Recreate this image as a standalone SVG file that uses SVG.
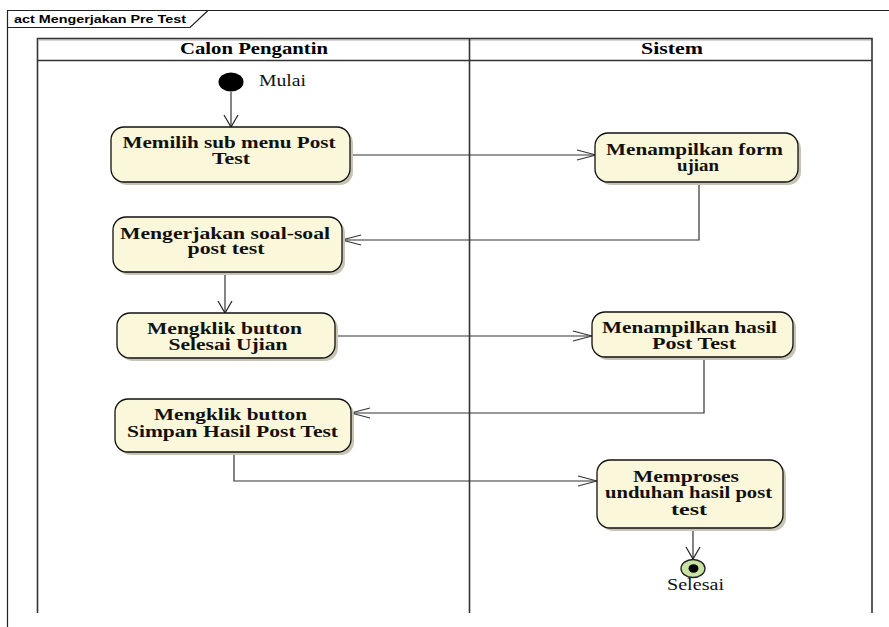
<svg xmlns="http://www.w3.org/2000/svg" width="889" height="627" viewBox="0 0 889 627">
<style>
.frame{fill:none;stroke:#222;stroke-width:1.2}
.lane{fill:none;stroke:#333;stroke-width:1.6}
.title{font-family:"Liberation Sans",Arial,sans-serif;font-weight:bold;font-size:11px;fill:#000}
.hdr{font-family:"Liberation Serif","Times New Roman",serif;font-weight:bold;font-size:16px;fill:#000;text-anchor:middle}
.lbl{font-family:"Liberation Serif","Times New Roman",serif;font-weight:bold;font-size:16px;fill:#111;text-anchor:middle}
.plain{font-family:"Liberation Serif","Times New Roman",serif;font-size:16px;fill:#111}
.act{fill:#FBF7DA;stroke:#111;stroke-width:1.3}
.shadow{fill:#c8c4b4;stroke:none}
.edge{fill:none;stroke:#333;stroke-width:1.2}
</style>
<defs>
<marker id="arrH" markerUnits="userSpaceOnUse" markerWidth="22" markerHeight="14" refX="20" refY="7" orient="auto">
<path d="M1,2 L20,7 L1,12" fill="none" stroke="#333" stroke-width="1.1"/>
</marker>
<marker id="arrV" markerUnits="userSpaceOnUse" markerWidth="16" markerHeight="18" refX="13" refY="9" orient="auto">
<path d="M1,2 L13,9 L1,16" fill="none" stroke="#222" stroke-width="1.2"/>
</marker>
</defs>
<rect x="0" y="0" width="889" height="627" fill="#fff"/>
<g id="frame">
<path class="frame" d="M7.5,627 V10.5 H889"/>
<path class="frame" d="M7.5,27.5 H190 L208,10.5"/>
<text class="title" x="14" y="23" textLength="172" lengthAdjust="spacingAndGlyphs">act Mengerjakan Pre Test</text>
</g>
<g id="lanes">
<path d="M39,40 H873" stroke="#aaa" stroke-width="1" fill="none"/>
<path class="lane" d="M37.5,613 V38.5 H872 V613"/>
<path class="lane" d="M37.5,60.5 H872"/>
<path class="lane" d="M469.5,38.5 V613"/>
<text class="hdr" x="254" y="54" textLength="148" lengthAdjust="spacingAndGlyphs">Calon Pengantin</text>
<text class="hdr" x="672" y="54" textLength="62" lengthAdjust="spacingAndGlyphs">Sistem</text>
</g>
<g id="connectors">
<path class="edge" d="M231,92 V127" marker-end="url(#arrV)"/>
<path class="edge" d="M350,155 H596" marker-end="url(#arrH)"/>
<path class="edge" d="M699,182 V240 H342" marker-end="url(#arrH)"/>
<path class="edge" d="M225,272 V313" marker-end="url(#arrV)"/>
<path class="edge" d="M335,336 H592" marker-end="url(#arrH)"/>
<path class="edge" d="M704,357 V413 H351" marker-end="url(#arrH)"/>
<path class="edge" d="M234,452 V481 H597" marker-end="url(#arrH)"/>
<path class="edge" d="M693,528 V559" marker-end="url(#arrV)"/>
</g>
<g id="start">
<ellipse cx="231" cy="82" rx="12.5" ry="9.5" fill="#000"/>
<text class="plain" x="259" y="86" textLength="47" lengthAdjust="spacingAndGlyphs">Mulai</text>
</g>
<g id="n1">
<rect class="shadow" x="114" y="130" width="239" height="55" rx="13"/>
<rect class="act" x="111" y="127" width="239" height="55" rx="13"/>
<text class="lbl" x="229" y="148" textLength="213" lengthAdjust="spacingAndGlyphs">Memilih sub menu Post</text>
<text class="lbl" x="231" y="164" textLength="38" lengthAdjust="spacingAndGlyphs">Test</text>
</g>
<g id="n2">
<rect class="shadow" x="116" y="220" width="229" height="55" rx="13"/>
<rect class="act" x="113" y="217" width="229" height="55" rx="13"/>
<text class="lbl" x="225" y="238.5" textLength="210" lengthAdjust="spacingAndGlyphs">Mengerjakan soal-soal</text>
<text class="lbl" x="226" y="254" textLength="77" lengthAdjust="spacingAndGlyphs">post test</text>
</g>
<g id="n3">
<rect class="shadow" x="598" y="136" width="203" height="49" rx="13"/>
<rect class="act" x="595" y="133" width="203" height="49" rx="13"/>
<text class="lbl" x="694.5" y="154.5" textLength="177" lengthAdjust="spacingAndGlyphs">Menampilkan form</text>
<text class="lbl" x="698" y="170.5" textLength="42" lengthAdjust="spacingAndGlyphs">ujian</text>
</g>
<g id="n4">
<rect class="shadow" x="120" y="316" width="218" height="45" rx="13"/>
<rect class="act" x="117" y="313" width="218" height="45" rx="13"/>
<text class="lbl" x="224.5" y="333.5" textLength="155" lengthAdjust="spacingAndGlyphs">Mengklik button</text>
<text class="lbl" x="228" y="350" textLength="119" lengthAdjust="spacingAndGlyphs">Selesai Ujian</text>
</g>
<g id="n5">
<rect class="shadow" x="595" y="315" width="201" height="45" rx="13"/>
<rect class="act" x="592" y="312" width="201" height="45" rx="13"/>
<text class="lbl" x="689.5" y="332.5" textLength="175" lengthAdjust="spacingAndGlyphs">Menampilkan hasil</text>
<text class="lbl" x="694" y="348.5" textLength="84" lengthAdjust="spacingAndGlyphs">Post Test</text>
</g>
<g id="n6">
<rect class="shadow" x="118" y="402" width="236" height="53" rx="13"/>
<rect class="act" x="115" y="399" width="236" height="53" rx="13"/>
<text class="lbl" x="230.5" y="420" textLength="153" lengthAdjust="spacingAndGlyphs">Mengklik button</text>
<text class="lbl" x="232.5" y="437" textLength="211" lengthAdjust="spacingAndGlyphs">Simpan Hasil Post Test</text>
</g>
<g id="n7">
<rect class="shadow" x="600" y="463" width="186" height="68" rx="13"/>
<rect class="act" x="597" y="460" width="186" height="68" rx="13"/>
<text class="lbl" x="686" y="481.5" textLength="106" lengthAdjust="spacingAndGlyphs">Memproses</text>
<text class="lbl" x="688.5" y="498" textLength="167" lengthAdjust="spacingAndGlyphs">unduhan hasil post</text>
<text class="lbl" x="689" y="514.5" textLength="36" lengthAdjust="spacingAndGlyphs">test</text>
</g>
<g id="end">
<ellipse cx="693" cy="568.5" rx="12" ry="9" fill="#C8E3A2" stroke="#222" stroke-width="1.3"/>
<ellipse cx="693.5" cy="568.5" rx="5" ry="4.2" fill="#000"/>
<text class="plain" x="695.5" y="590" text-anchor="middle" textLength="57" lengthAdjust="spacingAndGlyphs">Selesai</text>
</g>
</svg>
